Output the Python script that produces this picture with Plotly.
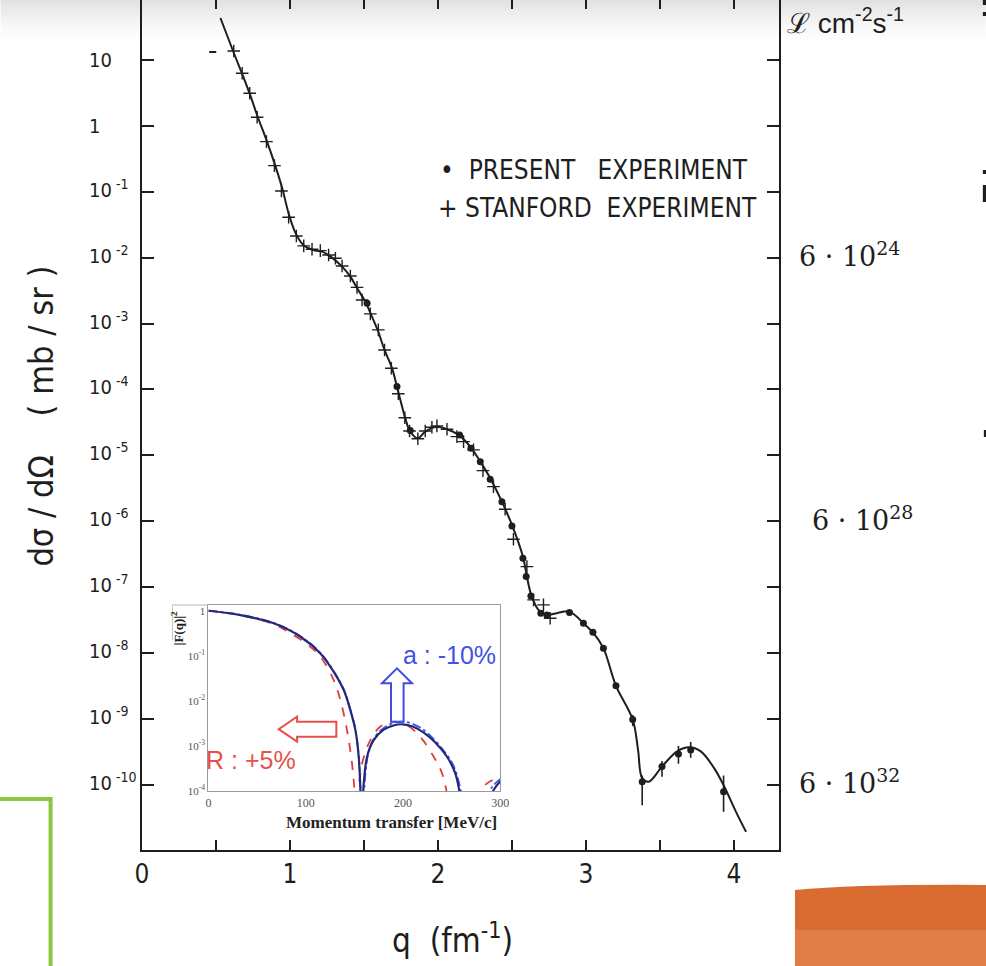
import plotly.graph_objects as go

# ---------------------------------------------------------------------------
# Main panel: elastic electron scattering cross section vs momentum transfer
# (values stored as log10 of dσ/dΩ in mb/sr)
# ---------------------------------------------------------------------------
fit_q = [0.530, 0.618, 0.685, 0.733, 0.780, 0.848, 0.901, 0.949, 0.990, 1.037,
         1.090, 1.158, 1.217, 1.284, 1.352, 1.408, 1.453, 1.509, 1.543, 1.592,
         1.639, 1.689, 1.723, 1.779, 1.810, 1.864, 1.914, 1.982, 2.061, 2.139,
         2.218, 2.286, 2.353, 2.432, 2.500, 2.574, 2.601, 2.630, 2.679, 2.736,
         2.803, 2.889, 2.983, 3.051, 3.118, 3.203, 3.316, 3.352, 3.380, 3.425,
         3.514, 3.616, 3.697, 3.776, 3.866, 3.935, 4.014, 4.082]
fit_log_xs = [1.637, 1.121, 0.742, 0.454, 0.150, -0.259, -0.608, -0.958, -1.322, -1.625,
              -1.807, -1.883, -1.909, -2.000, -2.137, -2.288, -2.460, -2.668, -2.839, -3.097,
              -3.401, -3.674, -3.958, -4.436, -4.630, -4.741, -4.640, -4.569, -4.604, -4.690,
              -4.868, -5.096, -5.347, -5.703, -6.056, -6.537, -6.841, -7.118, -7.346, -7.422,
              -7.396, -7.372, -7.548, -7.700, -7.927, -8.499, -9.009, -9.470, -9.900, -9.953,
              -9.724, -9.493, -9.432, -9.493, -9.748, -10.029, -10.411, -10.715]

stanford_q = [0.620, 0.677, 0.728, 0.778, 0.841, 0.895, 0.942, 0.991, 1.043, 1.093,
              1.149, 1.205, 1.261, 1.307, 1.352, 1.408, 1.453, 1.487, 1.543, 1.597,
              1.639, 1.685, 1.732, 1.776, 1.808, 1.864, 1.914, 1.959, 1.993, 2.061,
              2.128, 2.173, 2.240, 2.304, 2.375, 2.454, 2.510, 2.601, 2.646, 2.713, 2.758]
stanford_log_xs = [1.137, 0.798, 0.495, 0.130, -0.240, -0.604, -0.988, -1.387, -1.671, -1.822,
                   -1.873, -1.894, -1.959, -2.009, -2.126, -2.278, -2.452, -2.642, -2.854, -3.097,
                   -3.401, -3.678, -4.065, -4.429, -4.630, -4.748, -4.630, -4.574, -4.554, -4.604,
                   -4.716, -4.792, -4.918, -5.232, -5.475, -5.818, -6.273, -6.689, -7.194, -7.270, -7.472]

present_q = [1.521, 1.723, 1.813, 2.146, 2.223, 2.286, 2.353, 2.432, 2.500, 2.574,
             2.596, 2.628, 2.695, 2.736, 2.889, 2.983, 3.047, 3.118, 3.203]
present_log_xs = [-2.692, -3.954, -4.622, -4.690, -4.892, -5.096, -5.363, -5.703, -6.071, -6.561,
                  -6.841, -7.134, -7.396, -7.422, -7.387, -7.548, -7.684, -7.927, -8.499]

# present-experiment points at large q, with their error bars
bar_q = [3.316, 3.380, 3.514, 3.625, 3.708, 3.930]
bar_log_xs = [-9.009, -9.953, -9.724, -9.534, -9.473, -10.106]
bar_log_lo = [-9.11, -10.31, -9.88, -9.68, -9.59, -10.41]
bar_log_hi = [-8.94, -9.86, -9.64, -9.41, -9.35, -9.86]

stray_q = [0.478]
stray_log_xs = [1.121]

x_tick_values = [0, 0.5, 1, 1.5, 2, 2.5, 3, 3.5, 4]
x_tick_labels = ["0", "", "1", "", "2", "", "3", "", "4"]
y_tick_exponents = [1, 0, -1, -2, -3, -4, -5, -6, -7, -8, -9, -10]
y_tick_labels = ["10", "1"] + ["10<sup> -%d</sup>" % k for k in range(1, 11)]

lumi_exponents = [-2, -6, -10]
lumi_labels = ["6 · 10<sup>24</sup>", "6 · 10<sup>28</sup>", "6 · 10<sup>32</sup>"]

# ---------------------------------------------------------------------------
# Inset: form factor |F(q)|^2 vs momentum transfer (MeV/c), log10 values
# ---------------------------------------------------------------------------
ff_q_nominal = [0, 32.9, 67.1, 94.6, 115.1, 128.8, 139.1, 145.9, 151.1, 154.5, 156.6, None,
                158.6, 163.1, 169.9, 180.2, 191.0, 200.0, 210.0, 221.0, 233.0, 245.3, 253.8, 259.5, None,
                288.5, 294.0, 300.0]
ff_log_nominal = [0, -0.096, -0.28, -0.577, -0.947, -1.355, -1.76, -2.205, -2.65, -3.24, -4.2, None,
                  -4.2, -3.24, -2.87, -2.64, -2.54, -2.52, -2.57, -2.70, -2.92, -3.24, -3.61, -4.2, None,
                  -4.2, -3.95, -3.79]

ff_q_a = [0, 32.9, 67.1, 94.6, 115.1, 128.8, 139.1, 145.9, 151.1, 154.5, 156.8, None,
          159.5, 164.0, 170.5, 180.2, 190.5, 200.0, 211.0, 221.6, 238.7, 252.4, 261.5, None,
          285.5, 292.0, 300.0]
ff_log_a = [0, -0.09, -0.27, -0.565, -0.935, -1.34, -1.745, -2.19, -2.63, -3.22, -4.2, None,
            -4.2, -3.20, -2.82, -2.60, -2.49, -2.46, -2.52, -2.65, -3.02, -3.46, -4.2, None,
            -4.2, -3.90, -3.74]

ff_q_r = [0, 32.9, 67.1, 84.3, 100.0, 115.1, 128.8, 135.6, 142.5, 147.6, 151.0, None,
          153.5, 158.0, 166.5, 176.8, 190.5, 204.2, 217.9, 231.6, 240.2, 246.5, None,
          274.5, 281.0, 286.4, 293.0, 300.0]
ff_log_r = [0, -0.10, -0.30, -0.50, -0.72, -1.02, -1.54, -1.98, -2.65, -3.39, -4.2, None,
            -4.2, -3.39, -2.87, -2.57, -2.46, -2.54, -2.80, -3.24, -3.61, -4.2, None,
            -4.2, -3.95, -3.83, -3.75, -3.72]

ff_x_ticks = [0, 100, 200, 300]
ff_y_exponents = [0, -1, -2, -3, -4]
ff_y_labels = ["1", "10<sup>-1</sup>", "10<sup>-2</sup>", "10<sup>-3</sup>", "10<sup>-4</sup>"]

# ---------------------------------------------------------------------------
# Page geometry (pixels) and helpers to place things in paper coordinates
# ---------------------------------------------------------------------------
W, H = 986, 966
L, R, T, B = 141.5, 779.0, 0.0, 850.0
PX_PER_Q = 148.1


def fx(p):
    return (p - L) / (R - L)


def fy(p):
    return (B - p) / (B - T)


def pow10(vals):
    return [None if v is None else 10 ** v for v in vals]


MAIN_FONT = "Liberation Sans Narrow, DejaVu Sans Condensed, Noto Sans, sans-serif"
SERIF = "Liberation Serif, DejaVu Serif, serif"
MATH_SERIF = "DejaVu Serif, serif"
SANS = "Liberation Sans, Arial, sans-serif"
INK = "#1e1e1e"

fig = go.Figure()

# fitted curve
fig.add_trace(go.Scatter(x=fit_q, y=pow10(fit_log_xs), mode="lines", line_shape="spline",
                         line=dict(color=INK, width=2), showlegend=False, hoverinfo="skip"))
# Stanford data
fig.add_trace(go.Scatter(x=stanford_q, y=pow10(stanford_log_xs), mode="markers",
                         marker=dict(symbol="cross-thin", size=9, line=dict(color=INK, width=1.4)),
                         showlegend=False))
fig.add_trace(go.Scatter(x=stray_q, y=pow10(stray_log_xs), mode="markers",
                         marker=dict(symbol="line-ew", size=5, line=dict(color=INK, width=2)),
                         showlegend=False))
# present experiment
fig.add_trace(go.Scatter(x=present_q, y=pow10(present_log_xs), mode="markers",
                         marker=dict(symbol="circle", size=7, color=INK), showlegend=False))
bar_y = pow10(bar_log_xs)
fig.add_trace(go.Scatter(
    x=bar_q, y=bar_y, mode="markers",
    marker=dict(symbol="circle", size=7, color=INK),
    error_y=dict(type="data", symmetric=False,
                 array=[10 ** h - c for h, c in zip(bar_log_hi, bar_y)],
                 arrayminus=[c - 10 ** l for l, c in zip(bar_log_lo, bar_y)],
                 color=INK, thickness=1.6, width=0),
    showlegend=False))

# inset curves
fig.add_trace(go.Scatter(x=ff_q_r, y=pow10(ff_log_r), mode="lines", line_shape="spline",
                         line=dict(color="#e23b3b", width=1.8, dash="dash"),
                         xaxis="x3", yaxis="y3", showlegend=False, connectgaps=False))
fig.add_trace(go.Scatter(x=ff_q_a, y=pow10(ff_log_a), mode="lines", line_shape="spline",
                         line=dict(color="#3d55e6", width=1.8, dash="dashdot"),
                         xaxis="x3", yaxis="y3", showlegend=False, connectgaps=False))
fig.add_trace(go.Scatter(x=ff_q_nominal, y=pow10(ff_log_nominal), mode="lines", line_shape="spline",
                         line=dict(color="#23287a", width=2.2),
                         xaxis="x3", yaxis="y3", showlegend=False, connectgaps=False))

annotations = []
# y tick labels, left aligned
for k, lab in zip(y_tick_exponents, y_tick_labels):
    annotations.append(dict(x=fx(86), xref="paper", y=k, yref="y", text=lab, showarrow=False,
                            xanchor="left", yanchor="middle", yshift=(3 if k < 0 else 0),
                            font=dict(family=MAIN_FONT, size=20, color=INK)))
# luminosity scale on the right
for k, lab, xp in zip(lumi_exponents, lumi_labels, [797, 810, 797]):
    annotations.append(dict(x=fx(xp), xref="paper", y=k, yref="y", text=lab, showarrow=False,
                            xanchor="left", yanchor="middle", yshift=3,
                            font=dict(family=MATH_SERIF, size=27, color=INK)))
annotations.append(dict(x=fx(785), xref="paper", y=fy(1), yref="paper",
                        text="ℒ cm<sup>-2</sup>s<sup>-1</sup>", showarrow=False,
                        xanchor="left", yanchor="top",
                        font=dict(family=SANS, size=28, color=INK)))
# legend
annotations.append(dict(x=fx(438), xref="paper", y=fy(170), yref="paper",
                        text="•  PRESENT   EXPERIMENT", showarrow=False, xanchor="left",
                        yanchor="middle", font=dict(family=MAIN_FONT, size=26, color=INK)))
annotations.append(dict(x=fx(436), xref="paper", y=fy(208), yref="paper",
                        text="+ STANFORD  EXPERIMENT", showarrow=False, xanchor="left",
                        yanchor="middle", font=dict(family=MAIN_FONT, size=26, color=INK)))
# axis titles
annotations.append(dict(x=fx(452), xref="paper", y=fy(938), yref="paper",
                        text="q  (fm<sup>-1</sup>)", showarrow=False, xanchor="center",
                        yanchor="middle", font=dict(family=MAIN_FONT, size=33, color=INK)))
annotations.append(dict(x=fx(40), xref="paper", y=fy(416), yref="paper",
                        text="dσ / dΩ    ( mb / sr )", showarrow=False, textangle=-90,
                        xanchor="center", yanchor="middle",
                        font=dict(family=MAIN_FONT, size=34, color=INK)))
# inset labels
annotations.append(dict(x=fx(391), xref="paper", y=fy(822), yref="paper",
                        text="<b>Momentum transfer [MeV/c]</b>", showarrow=False,
                        xanchor="center", yanchor="middle",
                        font=dict(family=SERIF, size=17, color="#222222")))
annotations.append(dict(x=fx(177), xref="paper", y=fy(628), yref="paper",
                        text="<b>|F(q)|<sup>2</sup></b>", showarrow=False, textangle=-90,
                        xanchor="center", yanchor="middle",
                        font=dict(family=SERIF, size=13, color="#222222")))
annotations.append(dict(x=fx(401), xref="paper", y=fy(655), yref="paper",
                        text="a : -10%", showarrow=False, xanchor="left", yanchor="middle",
                        font=dict(family=SANS, size=25, color="#4152ea")))
annotations.append(dict(x=fx(204), xref="paper", y=fy(760), yref="paper",
                        text="R : +5%", showarrow=False, xanchor="left", yanchor="middle",
                        font=dict(family=SANS, size=25, color="#e5504a")))


def path_px(points):
    return "M " + " L ".join("%.5f,%.5f" % (fx(a), fy(b)) for a, b in points) + " Z"


shapes = []
# soft grey shading along the top edge
for i in range(14):
    shapes.append(dict(type="rect", xref="paper", yref="paper", layer="below",
                       x0=fx(0), x1=fx(W), y0=fy(3 * i), y1=fy(3 * i + 3),
                       line=dict(width=0), fillcolor="rgba(110,110,110,%.3f)" % (0.2 * (1 - i / 14) ** 1.5)))
# light frame of the inset panel
shapes.append(dict(type="line", xref="paper", yref="paper", x0=fx(172), x1=fx(208),
                   y0=fy(605), y1=fy(605), line=dict(color="#b5b5b5", width=1.2)))
shapes.append(dict(type="line", xref="paper", yref="paper", x0=fx(172), x1=fx(172),
                   y0=fy(605), y1=fy(640), line=dict(color="#c8c8c8", width=1)))
# hollow arrows in the inset
shapes.append(dict(type="path", xref="paper", yref="paper",
                   path=path_px([(390.7, 721.7), (390.7, 683.3), (381.7, 683.3), (396.7, 668.3),
                                 (411.7, 683.3), (403.3, 683.3), (403.3, 721.7)]),
                   line=dict(color="#3d4fe0", width=2), fillcolor="rgba(0,0,0,0)"))
shapes.append(dict(type="path", xref="paper", yref="paper",
                   path=path_px([(336.0, 721.7), (296.7, 721.7), (296.7, 716.7), (278.3, 729.2),
                                 (296.7, 741.7), (296.7, 736.7), (336.0, 736.7)]),
                   line=dict(color="#e5504a", width=2), fillcolor="rgba(0,0,0,0)"))
# green frame at lower left
shapes.append(dict(type="rect", xref="paper", yref="paper",
                   x0=fx(-20), x1=fx(50), y0=fy(1000), y1=fy(799),
                   line=dict(color="#8cc63f", width=4), fillcolor="rgba(0,0,0,0)"))
# orange block at lower right
shapes.append(dict(type="path", xref="paper", yref="paper",
                   path="M %.5f,%.5f Q %.5f,%.5f %.5f,%.5f L %.5f,%.5f L %.5f,%.5f Z" % (
                       fx(795), fy(890), fx(860), fy(884), fx(990), fy(885), fx(990), fy(970), fx(795), fy(970)),
                   line=dict(width=0), fillcolor="#d96b31"))
shapes.append(dict(type="rect", xref="paper", yref="paper",
                   x0=fx(795), x1=fx(990), y0=fy(970), y1=fy(930),
                   line=dict(width=0), fillcolor="#e07d47"))
# clipped glyph fragments along the right edge
for y0, y1, x0 in [(0, 5, 983), (12, 16, 983), (170, 174, 983), (185, 202, 983), (430, 437, 984)]:
    shapes.append(dict(type="rect", xref="paper", yref="paper",
                       x0=fx(x0), x1=fx(990), y0=fy(y1), y1=fy(y0),
                       line=dict(width=0), fillcolor=INK))

fig.update_layout(
    width=W, height=H,
    margin=dict(l=L, r=W - R, t=T, b=H - B, pad=0, autoexpand=False),
    paper_bgcolor="white", plot_bgcolor="rgba(0,0,0,0)",
    showlegend=False,
    xaxis=dict(range=[0, (R - L) / PX_PER_Q], tickvals=x_tick_values, ticktext=x_tick_labels,
               ticks="inside", ticklen=10, tickwidth=1.6, tickcolor=INK,
               showline=True, linecolor=INK, linewidth=1.6, showgrid=False, zeroline=False,
               tickfont=dict(family=MAIN_FONT, size=26, color=INK)),
    xaxis2=dict(overlaying="x", matches="x", side="top", anchor="y", tickvals=x_tick_values,
                showticklabels=False, ticks="inside", ticklen=9, tickwidth=1.6, tickcolor=INK,
                showline=False, showgrid=False, zeroline=False),
    yaxis=dict(type="log", range=[-10.99, 1.91], tickvals=[10 ** k for k in y_tick_exponents],
               showticklabels=False, ticks="inside", ticklen=12, tickwidth=1.6, tickcolor=INK,
               showline=True, linecolor=INK, linewidth=1.6, mirror="ticks",
               showgrid=False, zeroline=False),
    xaxis3=dict(domain=[fx(208), fx(500)], anchor="y3", range=[0, 300], tickvals=ff_x_ticks,
                showline=True, mirror=True, linecolor="#9a9a9a", linewidth=1.2, ticks="",
                showgrid=False, zeroline=False,
                tickfont=dict(family=SERIF, size=12, color="#555555")),
    yaxis3=dict(domain=[fy(791), fy(605)], anchor="x3", type="log", range=[-4, 0.127],
                tickvals=[10 ** k for k in ff_y_exponents], ticktext=ff_y_labels,
                showline=True, mirror=True, linecolor="#9a9a9a", linewidth=1.2, ticks="",
                showgrid=False, zeroline=False,
                tickfont=dict(family=SERIF, size=11, color="#555555")),
    annotations=annotations,
    shapes=shapes,
)

fig.add_trace(go.Scatter(x=[None], y=[None], xaxis="x2", yaxis="y", showlegend=False))

fig.write_html("out.html")
